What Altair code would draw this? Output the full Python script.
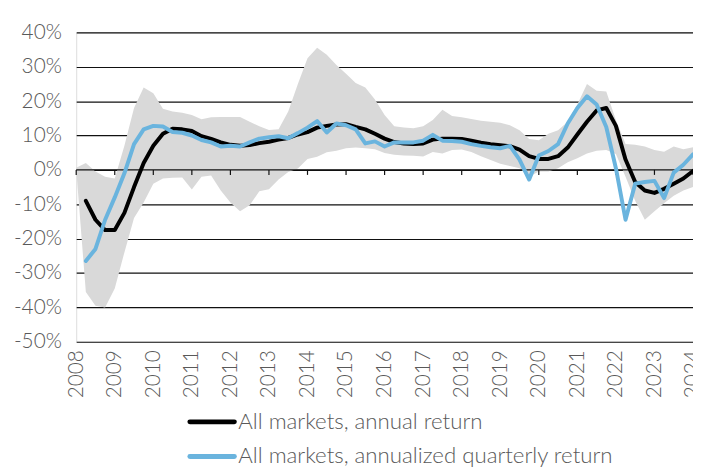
import altair as alt
import pandas as pd

# quarterly time positions (fractional years)
quarters = [2008.25 + 0.25 * i for i in range(64)]
band_quarters = [2008.0 + 0.25 * i for i in range(65)]

annual_return = [
    -9, -14.5, -17.5,
    -17.5, -12.5, -5, 2,
    7, 10.5, 12, 11.8,
    11.3, 9.8, 9, 8,
    7.3, 7, 7.2, 7.8,
    8.2, 8.8, 9.3, 10.3,
    11, 12.3, 12.8, 13.2,
    13.3, 12.5, 11.8, 10.5,
    9.1, 8.1, 7.7, 7.5,
    7.7, 8.8, 9.1, 9.1,
    9.0, 8.5, 7.9, 7.5,
    7.2, 6.9, 5.9, 4.0,
    3.2, 3.2, 4.0, 6.5,
    10.3, 14, 17.3, 18,
    12.8, 3, -3.5, -6,
    -6.7, -5.5, -4, -2.5,
    -0.3,
]

quarterly_return = [
    -26.5, -23, -14.5,
    -8, -1, 7.5, 11.8,
    12.8, 12.6, 11, 10.8,
    10, 8.7, 8, 6.8,
    7, 6.8, 8, 9.1,
    9.5, 9.8, 9.2, 10.7,
    12.3, 14.2, 10.9, 13.5,
    13, 11.8, 7.7, 8.3,
    6.8, 8, 8, 8,
    8.5, 10.2, 8.5, 8.4,
    8.2, 7.5, 7, 6.6,
    6.3, 7, 3, -2.8,
    4.2, 5.5, 7.5, 13.5,
    18, 21.4, 19, 12.5,
    0.5, -14.5, -4, -3.5,
    -3.2, -8.2, -0.8, 1.5,
    4.5,
]

band_low = [
    0.2, -35.5, -39.5, -40,
    -34.5, -24, -14, -9.5,
    -4, -2.5, -2.3, -2.2,
    -5.7, -2, -1.6, -6,
    -9.5, -12, -10.3, -6.2,
    -5.6, -2.8, -0.6, 0.4,
    3.2, 3.8, 5.1, 5.6,
    6.3, 6.5, 6.3, 6,
    4.9, 4.4, 4.2, 4.1,
    3.9, 5.2, 4.8, 5.8,
    5.9, 5.2, 4, 2.9,
    1.8, 1.1, 0.5, -2,
    -0.5, -0.5, 0.5, 2.2,
    3.4, 4.8, 5.6, 5.8,
    4.6, -2, -9, -14.5,
    -12, -9.7, -7.5, -6,
    -5,
]

band_high = [
    0.6, 2, -0.5, -2,
    -2.5, 7, 18, 24,
    22.3, 17.8, 17, 16.6,
    16, 14.7, 15.3, 15.4,
    15.4, 15.4, 14, 12.7,
    11.6, 11.8, 17, 25,
    32.5, 35.5, 33.5, 30.5,
    28, 25.3, 24, 20.5,
    16, 12.7, 12.3, 12.1,
    12.7, 14.5, 17.5, 15.7,
    15.3, 14.8, 14.3, 14,
    13.7, 13, 11.5, 9,
    8.6, 10.5, 11.5, 14,
    19, 25, 23, 22.8,
    14.5, 7.5, 7.3, 6.8,
    5.8, 5.3, 6.8, 6,
    6.6,
]

years = list(range(2008, 2025))
y_ticks = list(range(-50, 41, 10))
legend_labels = ["All markets, annual return", "All markets, annualized quarterly return"]
colors = ["#000000", "#6AB4DE"]

FONT = "Lato"
TXT = "#595959"
FS = 21

x_axis = alt.Axis(values=years, format="d", labelAngle=270, labelPadding=8,
                  ticks=False, domain=False, grid=False, labelFontSize=FS,
                  labelFontWeight=300, labelColor=TXT, labelFont=FONT, title=None,
                  labelOverlap=False)
y_axis = alt.Axis(values=y_ticks, labelExpr="datum.value + '%'", grid=True,
                  gridColor="#111111", gridWidth=1.2, ticks=False, domain=False,
                  labelPadding=15, labelFontSize=FS, labelFontWeight=300,
                  labelColor=TXT, labelFont=FONT, title=None)
x_scale = alt.Scale(domain=[2008, 2024], nice=False, zero=False)
y_scale = alt.Scale(domain=[-50, 40], nice=False, zero=False)

band_df = pd.DataFrame({"t": band_quarters, "lo": band_low, "hi": band_high})
annual_df = pd.DataFrame({"t": quarters, "v": annual_return})
quarterly_df = pd.DataFrame({"t": quarters, "v": quarterly_return})
zero_df = pd.DataFrame({"v": [0]})
tick_df = pd.DataFrame({"t": years, "v": [0] * len(years), "v2": [-1.45] * len(years)})

band = alt.Chart(band_df).mark_area(color="#D9D9D9", opacity=1).encode(
    x=alt.X("t:Q", scale=x_scale, axis=x_axis),
    y=alt.Y("lo:Q", scale=y_scale, axis=y_axis),
    y2="hi:Q",
)

zero_line = alt.Chart(zero_df).mark_rule(color="#111111", strokeWidth=1.2).encode(
    y=alt.Y("v:Q", scale=y_scale, axis=y_axis)
)

tick_marks = alt.Chart(tick_df).mark_rule(color="#111111", strokeWidth=1.2).encode(
    x=alt.X("t:Q", scale=x_scale, axis=x_axis),
    y=alt.Y("v:Q", scale=y_scale, axis=y_axis),
    y2="v2:Q",
)

black_line = alt.Chart(annual_df).mark_line(
    color=colors[0], strokeWidth=4, strokeJoin="round", strokeCap="round"
).encode(
    x=alt.X("t:Q", scale=x_scale, axis=x_axis),
    y=alt.Y("v:Q", scale=y_scale, axis=y_axis),
)

blue_line = alt.Chart(quarterly_df).mark_line(
    color=colors[1], strokeWidth=4, strokeJoin="round", strokeCap="round"
).encode(
    x=alt.X("t:Q", scale=x_scale, axis=x_axis),
    y=alt.Y("v:Q", scale=y_scale, axis=y_axis),
)

legend_layers = []
for i, (lab, col) in enumerate(zip(legend_labels, colors)):
    ypos = 394 + 35 * i
    ldf = pd.DataFrame({"label": [lab]})
    legend_layers.append(
        alt.Chart(ldf).mark_rule(color=col, strokeWidth=5, strokeCap="round").encode(
            x=alt.value(115), x2=alt.value(160), y=alt.value(ypos)
        )
    )
    legend_layers.append(
        alt.Chart(ldf).mark_text(align="left", baseline="middle", font=FONT,
                                 fontSize=22.5, fontWeight=300, color=TXT).encode(
            x=alt.value(164), y=alt.value(ypos), text="label:N"
        )
    )

chart = alt.layer(band, zero_line, tick_marks, black_line, blue_line, *legend_layers).properties(
    width=624,
    height=313,
    autosize=alt.AutoSizeParams(type="none"),
    padding={"left": 69, "top": 22, "right": 0, "bottom": 124},
).configure_view(stroke=None).configure(background="white")

chart.save("out.html", embed_options={"renderer": "svg", "actions": False})
